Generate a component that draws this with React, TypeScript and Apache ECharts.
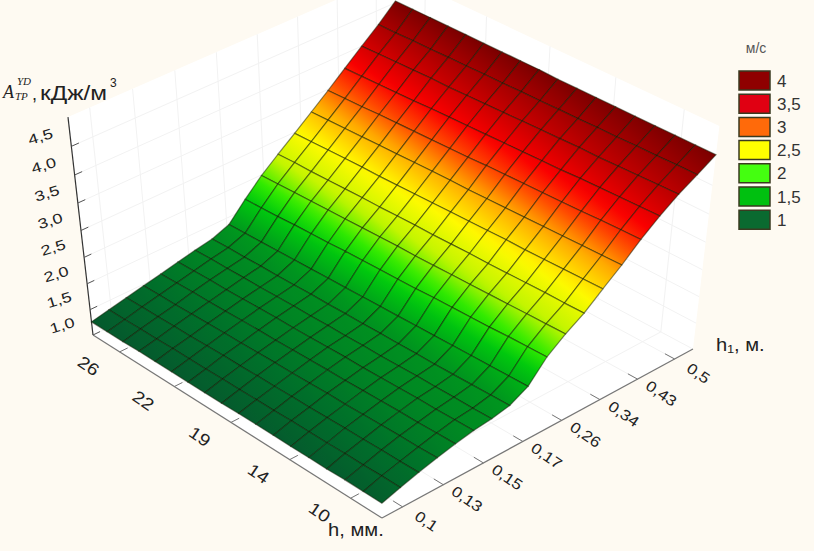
import React, { useEffect, useRef } from "react";
import * as echarts from "echarts";

const hTicks = ["26", "22", "19", "14", "10"];
const h1Ticks = ["0,1", "0,13", "0,15", "0,17", "0,26", "0,34", "0,43", "0,5"];
const zTicks = [1, 1.5, 2, 2.5, 3, 3.5, 4, 4.5];
const zTickLabels = ["1,0", "1,5", "2,0", "2,5", "3,0", "3,5", "4,0", "4,5"];
const legendLabels = ["4", "3,5", "3", "2,5", "2", "1,5", "1"];
const legendColors = ["#8f0000", "#e00012", "#ff6a0a", "#ffff00", "#44ff10", "#00c010", "#0a6a30"];

// rows: h from 26 to 10; columns: h1 from 0.1 to 0.5
const surfaceRows = [
  [1.26, 1.33, 1.40, 1.47, 1.54, 1.61, 1.68, 1.74, 1.86, 2.19, 2.49, 2.74, 2.98, 3.23, 3.48, 3.74, 4.00, 4.25, 4.53],
  [1.26, 1.33, 1.41, 1.48, 1.55, 1.62, 1.69, 1.75, 1.87, 2.20, 2.50, 2.75, 2.99, 3.24, 3.49, 3.75, 4.01, 4.25, 4.53],
  [1.26, 1.34, 1.41, 1.48, 1.56, 1.63, 1.69, 1.75, 1.88, 2.21, 2.51, 2.75, 3.00, 3.25, 3.50, 3.76, 4.02, 4.26, 4.53],
  [1.27, 1.34, 1.42, 1.49, 1.56, 1.63, 1.70, 1.76, 1.89, 2.23, 2.52, 2.76, 3.01, 3.26, 3.52, 3.77, 4.03, 4.26, 4.53],
  [1.27, 1.35, 1.42, 1.50, 1.57, 1.64, 1.70, 1.76, 1.90, 2.24, 2.53, 2.77, 3.02, 3.27, 3.53, 3.78, 4.04, 4.27, 4.53],
  [1.27, 1.35, 1.43, 1.51, 1.58, 1.65, 1.71, 1.77, 1.91, 2.25, 2.54, 2.78, 3.02, 3.28, 3.54, 3.80, 4.04, 4.27, 4.53],
  [1.27, 1.35, 1.44, 1.51, 1.59, 1.66, 1.72, 1.78, 1.92, 2.27, 2.55, 2.78, 3.03, 3.29, 3.55, 3.81, 4.05, 4.28, 4.53],
  [1.27, 1.36, 1.44, 1.52, 1.59, 1.66, 1.72, 1.78, 1.93, 2.28, 2.56, 2.79, 3.04, 3.30, 3.56, 3.82, 4.06, 4.28, 4.53],
  [1.27, 1.36, 1.45, 1.53, 1.60, 1.67, 1.73, 1.79, 1.94, 2.29, 2.57, 2.80, 3.05, 3.31, 3.57, 3.83, 4.07, 4.29, 4.53],
  [1.28, 1.37, 1.45, 1.53, 1.61, 1.68, 1.73, 1.79, 1.95, 2.30, 2.57, 2.80, 3.06, 3.31, 3.59, 3.84, 4.08, 4.29, 4.52],
  [1.28, 1.37, 1.46, 1.54, 1.62, 1.69, 1.74, 1.80, 1.96, 2.31, 2.58, 2.81, 3.07, 3.32, 3.60, 3.85, 4.09, 4.30, 4.52],
  [1.28, 1.38, 1.46, 1.55, 1.62, 1.69, 1.74, 1.80, 1.97, 2.33, 2.59, 2.82, 3.08, 3.33, 3.61, 3.86, 4.10, 4.30, 4.52],
  [1.28, 1.38, 1.47, 1.55, 1.63, 1.70, 1.75, 1.81, 1.98, 2.34, 2.60, 2.82, 3.09, 3.34, 3.62, 3.87, 4.11, 4.31, 4.52],
  [1.28, 1.38, 1.48, 1.56, 1.64, 1.71, 1.76, 1.81, 1.99, 2.35, 2.61, 2.83, 3.09, 3.35, 3.63, 3.89, 4.11, 4.31, 4.52],
  [1.28, 1.39, 1.48, 1.57, 1.65, 1.72, 1.76, 1.82, 2.00, 2.36, 2.62, 2.84, 3.10, 3.36, 3.64, 3.90, 4.12, 4.32, 4.52],
  [1.29, 1.39, 1.49, 1.58, 1.65, 1.72, 1.77, 1.83, 2.01, 2.38, 2.63, 2.85, 3.11, 3.37, 3.66, 3.91, 4.13, 4.32, 4.52],
  [1.29, 1.40, 1.49, 1.58, 1.66, 1.73, 1.77, 1.84, 2.02, 2.39, 2.64, 2.85, 3.12, 3.38, 3.67, 3.92, 4.14, 4.33, 4.52],
  [1.29, 1.40, 1.50, 1.59, 1.67, 1.74, 1.78, 1.85, 2.03, 2.40, 2.65, 2.86, 3.13, 3.39, 3.68, 3.93, 4.15, 4.33, 4.52],
];

// value → colour ramp
const rampValues = [1.2, 1.5, 1.85, 2.2, 2.42, 2.68, 3.0, 3.32, 3.55, 3.8, 4.1, 4.55];
const rampColors = [
  [6, 84, 46], [0, 112, 42], [0, 150, 30], [0, 200, 14], [50, 235, 0], [195, 245, 0], [255, 250, 0],
  [255, 170, 0], [255, 80, 0], [250, 0, 0], [195, 0, 0], [120, 0, 0],
];

function colorOf(v: number) {
  let i = 0;
  while (i < rampValues.length - 2 && v > rampValues[i + 1]) i++;
  const t = Math.max(0, Math.min(1, (v - rampValues[i]) / (rampValues[i + 1] - rampValues[i])));
  const a = rampColors[i], b = rampColors[i + 1];
  return `rgb(${Math.round(a[0] + (b[0] - a[0]) * t)},${Math.round(a[1] + (b[1] - a[1]) * t)},${Math.round(a[2] + (b[2] - a[2]) * t)})`;
}

// perspective camera: u along h, v along h1, z over the value axis (1..5)
function project(u: number, v: number, z: number): [number, number] {
  const d = 1 - 0.086 * u + 0.0595 * v - 0.0779 * z;
  return [(93 + 256.1 * u + 325.5 * v - 30.3 * z) / d, (335 + 138.5 * u - 133.7 * v - 227 * z) / d];
}
const zOf = (val: number) => (val - 1) / 4;

const SANS = "'Liberation Sans', Arial, sans-serif";
const SERIF = "'Liberation Serif', serif";

function buildGraphic() {
  const els: any[] = [];
  const poly = (pts: [number, number][], fill: string) =>
    els.push({ type: "polygon", shape: { points: pts }, style: { fill, stroke: "none" }, silent: true });
  const line = (a: [number, number], b: [number, number], stroke: string, lineWidth = 1) =>
    els.push({ type: "line", shape: { x1: a[0], y1: a[1], x2: b[0], y2: b[1] }, style: { stroke, lineWidth }, silent: true });
  const text = (t: string, x: number, y: number, font: string, fill = "#222", align = "center", rotation = 0, scaleX = 1) =>
    els.push({
      type: "text", x, y, rotation, scaleX, silent: true,
      style: { text: t, font, fill, align, verticalAlign: "middle" },
    });

  // walls and floor
  poly([project(0, 0, 0), project(0, 0, 1), project(0, 1, 1), project(0, 1, 0)], "#ffffff");
  poly([project(0, 1, 0), project(0, 1, 1), project(1, 1, 1), project(1, 1, 0)], "#ffffff");
  poly([project(0, 0, 0), project(1, 0, 0), project(1, 1, 0), project(0, 1, 0)], "#ffffff");

  const GRID = "#f2f2f2";
  zTicks.forEach((val) => {
    const z = zOf(val);
    line(project(0, 0, z), project(0, 1, z), GRID);
    line(project(0, 1, z), project(1, 1, z), GRID);
  });
  h1Ticks.forEach((_, i) => {
    const v = (i + 0.5) / h1Ticks.length;
    line(project(0, v, 0), project(0, v, 1), GRID);
    line(project(0, v, 0), project(1, v, 0), GRID);
  });
  hTicks.forEach((_, i) => {
    const u = (i + 0.5) / hTicks.length;
    line(project(u, 1, 0), project(u, 1, 1), GRID);
    line(project(u, 0, 0), project(u, 1, 0), GRID);
  });

  // axes
  line(project(0, 0, 0), project(0, 0, 1), "#333", 1.2);
  line(project(0, 0, 0), project(1, 0, 0), "#777", 1.2);
  line(project(1, 0, 0), project(1, 1, 0), "#777", 1.2);

  const ROT = -0.6;
  zTicks.forEach((val, i) => {
    const z = zOf(val);
    const p = project(0, 0, z);
    line(p, project(0, 0.022, z), "#555");
    text(zTickLabels[i], p[0] - 31, p[1] - 10, `14px ${SANS}`, "#222", "center", 0.3, 1.3);
  });
  hTicks.forEach((t, i) => {
    const u = (i + 0.5) / hTicks.length;
    const p = project(u, 0, 0);
    line(p, project(u, 0.025, 0), "#777");
    text(t, p[0] - 31, p[1] + 14, `17px ${SANS}`, "#222", "center", ROT, 1.15);
  });
  h1Ticks.forEach((t, i) => {
    const v = (i + 0.5) / h1Ticks.length;
    const p = project(1, v, 0);
    line(p, project(0.97, v, 0), "#777");
    text(t, p[0] + 24, p[1] + 14, `15px ${SANS}`, "#222", "center", ROT, 1.15);
  });

  // axis titles
  text("A", 3, 92, `italic 18px ${SERIF}`, "#222", "left");
  text("YD", 17, 81, `italic 11px ${SERIF}`, "#222", "left");
  text("TP", 15, 96, `italic 11px ${SERIF}`, "#222", "left");
  text(",", 32, 94, `18px ${SANS}`, "#222", "left");
  text("кДж/м", 40, 93, `21px ${SANS}`, "#222", "left", 0, 1.16);
  text("3", 110, 83, `12px ${SANS}`, "#222", "left");
  text("h, мм.", 328, 530, `18px ${SANS}`, "#222", "left", 0, 1.12);
  text("h₁, м.", 716, 345, `18px ${SANS}`, "#222", "left", 0, 1.12);

  // legend
  text("м/с", 756, 48, `14px ${SANS}`, "#555");
  legendLabels.forEach((lab, i) => {
    const y = 71 + i * 23.2;
    els.push({
      type: "rect", silent: true, shape: { x: 739, y, width: 31, height: 19 },
      style: { fill: legendColors[i], stroke: "#3a3a20", lineWidth: 1.5 },
    });
    text(lab, 777, y + 10, `17px ${SANS}`, "#333", "left");
  });
  return els;
}

const cellData: number[][] = [];
for (let k = surfaceRows[0].length - 2; k >= 0; k--) {
  for (let r = 0; r < surfaceRows.length - 1; r++) {
    cellData.push([r, k, surfaceRows[r][k], surfaceRows[r + 1][k], surfaceRows[r + 1][k + 1], surfaceRows[r][k + 1]]);
  }
}

export default function App() {
  const ref = useRef<HTMLDivElement>(null);
  useEffect(() => {
    document.body.style.margin = "0";
    const chart = echarts.init(ref.current!, null, { renderer: "svg" });
    const nU = surfaceRows.length - 1;
    const nV = surfaceRows[0].length - 1;
    chart.setOption({
      animation: false,
      backgroundColor: "#fefaf2",
      graphic: { elements: buildGraphic() },
      series: [
        {
          type: "custom",
          coordinateSystem: "none",
          silent: true,
          data: cellData,
          renderItem: (_: any, api: any) => {
            const r = api.value(0), k = api.value(1);
            const v00 = api.value(2), v10 = api.value(3), v11 = api.value(4), v01 = api.value(5);
            const a = project(r / nU, k / nV, zOf(v00));
            const b = project((r + 1) / nU, k / nV, zOf(v10));
            const c = project((r + 1) / nU, (k + 1) / nV, zOf(v11));
            const d = project(r / nU, (k + 1) / nV, zOf(v01));
            const lo = (v00 + v10) / 2, hi = (v01 + v11) / 2;
            const stops = [0, 0.25, 0.5, 0.75, 1].map((o) => ({ offset: o, color: colorOf(lo + (hi - lo) * o) }));
            const fill = new echarts.graphic.LinearGradient(
              (a[0] + b[0]) / 2, (a[1] + b[1]) / 2, (c[0] + d[0]) / 2, (c[1] + d[1]) / 2, stops, true,
            );
            return {
              type: "polygon",
              shape: { points: [a, b, c, d] },
              style: { fill, stroke: "rgba(15,25,0,0.5)", lineWidth: 1.2 },
            };
          },
        },
      ],
    });
    return () => chart.dispose();
  }, []);
  return <div ref={ref} style={{ position: "absolute", left: 0, top: 0, width: 814, height: 551 }} />;
}
